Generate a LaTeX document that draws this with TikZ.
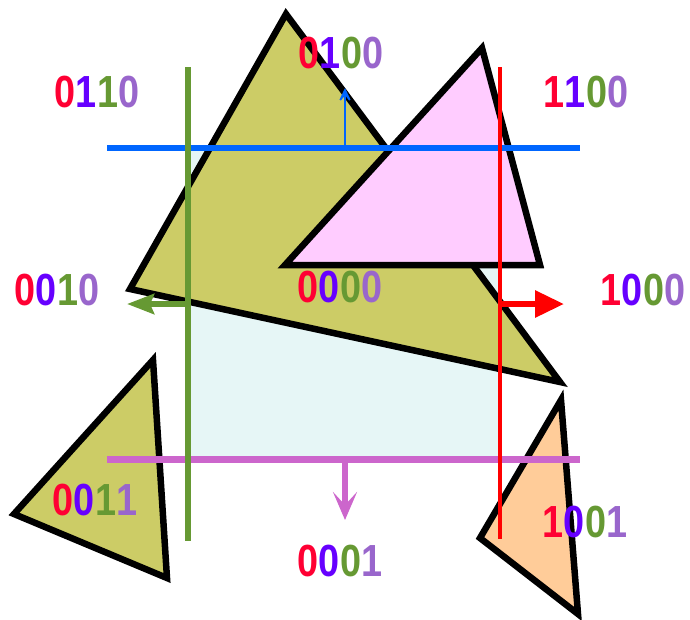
\documentclass[tikz,border=0pt]{standalone}
\usepackage{fontspec}
\usepackage{graphicx}
\usetikzlibrary{arrows.meta}
\newfontfamily\digfont{Liberation Sans}
\definecolor{cR}{HTML}{FF0033}
\definecolor{cB}{HTML}{6600FF}
\definecolor{cG}{HTML}{669933}
\definecolor{cP}{HTML}{9966CC}
\definecolor{olivefill}{HTML}{CCCC66}
\definecolor{pinkfill}{HTML}{FFCCFF}
\definecolor{cyanfill}{HTML}{E6F6F6}
\definecolor{orangefill}{HTML}{FFCC99}
\definecolor{lineblue}{HTML}{0066FF}
\definecolor{linegreen}{HTML}{669933}
\definecolor{linered}{HTML}{FF0000}
\definecolor{linepurple}{HTML}{CC66CC}
\newcommand\bitcode[4]{\scalebox{0.84}[1]{\textcolor{cR}{#1}\textcolor{cB}{#2}\textcolor{cG}{#3}\textcolor{cP}{#4}}}
\begin{document}
\begin{tikzpicture}[x=1pt,y=-1pt,
  tri/.style={draw=black,line width=6.5pt,line join=miter},
  codelabel/.style={inner sep=0pt,font=\digfont\bfseries\fontsize{45}{45}\selectfont}]
\useasboundingbox (0,0) rectangle (690,619);
% clip window
\fill[cyanfill] (188,148) rectangle (500,459);
% triangles
\draw[tri,fill=olivefill] (286,14) -- (560,382) -- (130,289) -- cycle;
\draw[tri,fill=pinkfill] (285,265) -- (482,48) -- (540,265) -- cycle;
\draw[tri,fill=olivefill] (153,360) -- (14,514) -- (167,578) -- cycle;
\draw[tri,fill=orangefill] (561,400) -- (480,538) -- (578,614) -- cycle;
% boundary lines
\coordinate (bl) at (107,148); \coordinate (br) at (580,148);
\coordinate (pl) at (107,459); \coordinate (pr) at (580,459);
\coordinate (gt) at (188,67); \coordinate (gb) at (188,541);
\coordinate (rt) at (500,67); \coordinate (rb) at (500,539);
\draw[lineblue,line width=5.5pt] (bl) -- (br);
\draw[linepurple,line width=7pt] (pl) -- (pr);
\draw[linegreen,line width=5.5pt] (gt) -- (gb);
\draw[linered,line width=3.5pt] (rt) -- (rb);
% arrows
\coordinate (ua) at (345,148); \coordinate (ub) at (345,88);
\coordinate (da) at (345,459); \coordinate (db) at (345,520);
\coordinate (la) at (188,304); \coordinate (lb) at (127,304);
\coordinate (ra) at (500,304); \coordinate (rbb) at (564,304);
\draw[lineblue,line width=2.5pt,-{Stealth[length=20pt,width=19pt,inset=13pt]}] (ua) -- (ub);
\draw[linepurple,line width=6pt,-{Stealth[length=28pt,width=24pt,inset=13pt]}] (da) -- (db);
\draw[linegreen,line width=6pt,-{Stealth[length=27pt,width=20pt,inset=4pt]}] (la) -- (lb);
\draw[linered,line width=6pt,-{Triangle[length=29pt,width=26pt]}] (ra) -- (rbb);
% labels
\node[codelabel] (c0110) at (97,92) {\bitcode0110};
\node[codelabel] (c0100) at (341,53) {\bitcode0100};
\node[codelabel] (c1100) at (586,92) {\bitcode1100};
\node[codelabel] (c0010) at (57,290) {\bitcode0010};
\node[codelabel] (c0000) at (340,287) {\bitcode0000};
\node[codelabel] (c1000) at (643,290) {\bitcode1000};
\node[codelabel] (c0011) at (95,500) {\bitcode0011};
\node[codelabel] (c0001) at (340,561) {\bitcode0001};
\node[codelabel] (c1001) at (585,522) {\bitcode1001};
\end{tikzpicture}
\end{document}
